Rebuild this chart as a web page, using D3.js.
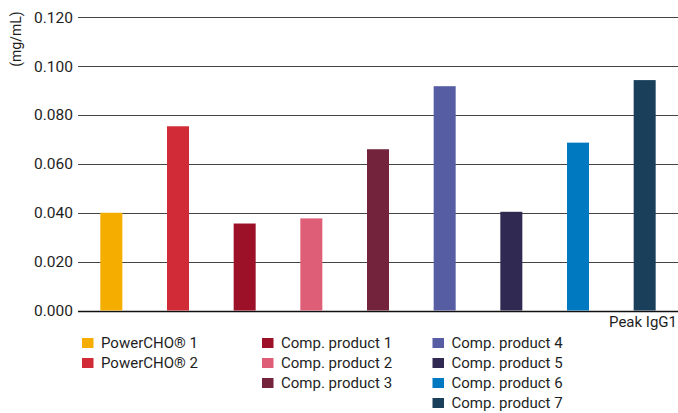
<!DOCTYPE html>
<html><head><meta charset="utf-8">
<script src="https://cdn.jsdelivr.net/npm/d3@7"></script>
<style>body{margin:0;background:#fff}svg{display:block}text{font-family:Roboto,"Liberation Sans",sans-serif;fill:#1e1e1e}</style>
</head><body><svg id="c" width="678" height="413"></svg>
<script>
const categories = ["PowerCHO® 1","PowerCHO® 2","Comp. product 1","Comp. product 2","Comp. product 3","Comp. product 4","Comp. product 5","Comp. product 6","Comp. product 7"];
const values = [0.0400,0.0754,0.0356,0.0377,0.0660,0.0918,0.0404,0.0687,0.0943];
const colors = ["#F5AE00","#D12B38","#9C1127","#DE5E78","#73233B","#565DA3","#302A52","#0079C0","#1A3F5A"];
const yTicks = [0,0.02,0.04,0.06,0.08,0.10,0.12];
const legendColumns = [[0,1],[2,3,4],[5,6,7,8]];
const groupLabel = "Peak IgG1";
const yLabel = "(mg/mL)";

const svg = d3.select("#c");
const L = 78, R = 678, T = 17.3, B = 310.5;
const x = d3.scaleBand().domain(categories).range([L,R]).paddingInner(0.67).paddingOuter(0.335);
const y = d3.scaleLinear().domain([0,0.12]).range([B,T]);

// gridlines
svg.append("g").selectAll("line").data(yTicks).join("line")
  .attr("x1",L).attr("x2",R).attr("y1",d=>Math.round(y(d))+0.5).attr("y2",d=>Math.round(y(d))+0.5)
  .attr("stroke",d=>d===0?"#111":"#444").attr("stroke-width",d=>d===0?1.5:1.2);

// tick labels
svg.append("g").selectAll("text").data(yTicks).join("text")
  .attr("x",73).attr("y",d=>y(d)).attr("dy","0.35em").attr("text-anchor","end")
  .style("font-size","15.5px").text(d=>d3.format(".3f")(d));

// y label
svg.append("text").attr("transform","translate(21,39) rotate(-90)").attr("text-anchor","middle")
  .style("font-size","14px").text(yLabel);

// bars
svg.append("g").selectAll("rect").data(categories).join("rect")
  .attr("x",d=>x(d)).attr("width",x.bandwidth())
  .attr("y",(d,i)=>y(values[i])).attr("height",(d,i)=>B-y(values[i]))
  .attr("fill",(d,i)=>colors[i]);

// group label
svg.append("text").attr("x",677).attr("y",326.5).attr("text-anchor","end").style("font-size","15px").text(groupLabel);

// legend
const colX = [82,262,432.5];
legendColumns.forEach((col,ci)=>{
  col.forEach((idx,ri)=>{
    const cy = 343 + ri*20;
    svg.append("rect").attr("x",colX[ci]).attr("y",cy-5).attr("width",11.5).attr("height",10).attr("fill",colors[idx]);
    svg.append("text").attr("x",colX[ci]+19).attr("y",cy).attr("dy","0.35em").style("font-size","15px").text(categories[idx]);
  });
});
</script></body></html>
